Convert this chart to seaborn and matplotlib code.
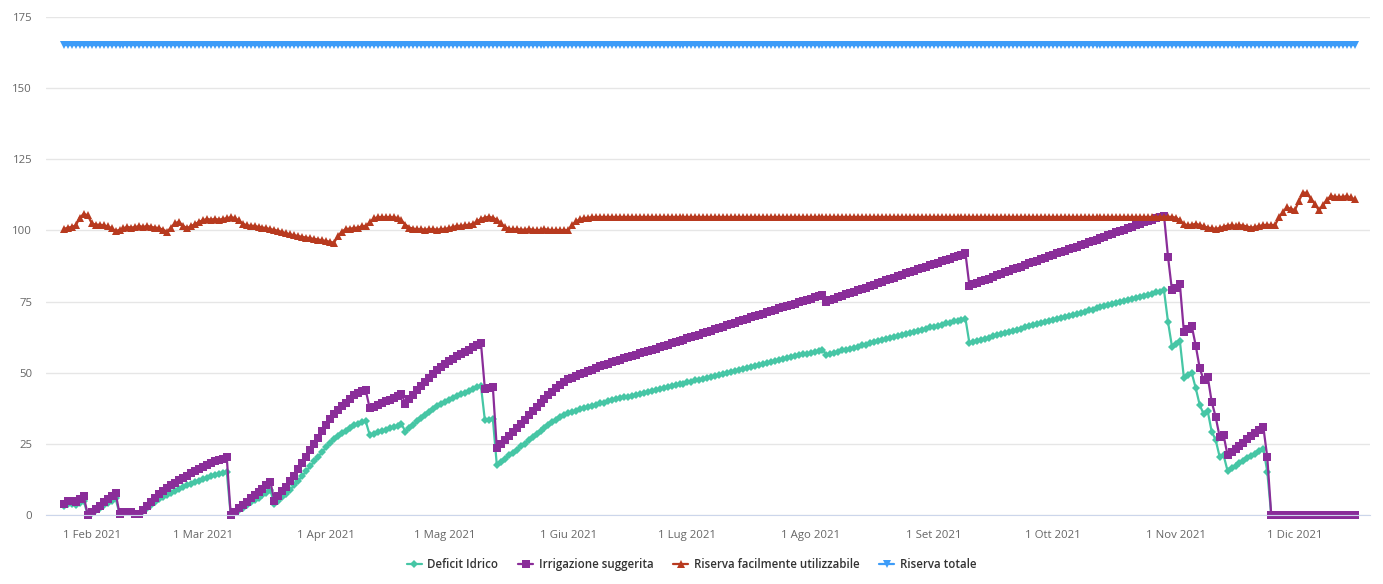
import pandas as pd
import matplotlib
matplotlib.use("Agg")
import matplotlib.pyplot as plt
from matplotlib.lines import Line2D
import seaborn as sns

# daily values, first day 25 Jan 2021
start_date = "2021-01-25"

deficit_idrico = [
    3.0, 3.8, 3.8, 3.4, 4.1, 4.9,
    0.0, 0.8, 1.7, 2.5, 3.4, 4.2, 5.0, 5.9,
    0.4, 0.8, 0.9, 0.9, 0.4, 0.2,
    1.4, 2.4, 3.5, 4.5, 5.5, 6.4, 7.1, 7.8, 8.5, 9.2, 9.8, 10.4, 11.0, 11.5, 12.0, 12.5, 13.1, 13.7, 14.1, 14.5, 14.9, 15.2,
    0.0, 0.9, 1.7, 2.6, 3.5, 4.4, 5.2, 6.1, 6.9, 7.8, 8.6,
    3.8, 5.0, 6.2, 7.5, 8.9, 10.4, 12.0, 13.7, 15.4, 17.1, 18.8, 20.4, 22.1, 23.8, 25.4, 26.6, 27.8, 28.7, 29.6, 30.6, 31.5, 32.1, 32.6, 32.9,
    28.1, 28.6, 29.0, 29.5, 29.9, 30.4, 30.8, 31.4, 31.9,
    29.3, 30.5, 31.7, 32.9, 34.0, 35.1, 36.2, 37.3, 38.2, 39.0, 39.8, 40.5, 41.2, 41.8, 42.4, 43.0, 43.6, 44.2, 44.8, 45.4,
    33.2, 33.5, 33.8,
    17.6, 18.7, 19.7, 20.9, 21.9, 23.0, 24.1, 25.1, 26.3, 27.3, 28.4, 29.4, 30.5, 31.5, 32.5, 33.5, 34.4,
    35.1, 35.8, 36.2, 36.7, 37.1, 37.5, 38.0, 38.3, 38.7, 39.2, 39.5, 39.9, 40.3,
    40.6, 41.0, 41.3, 41.6, 41.9, 42.2, 42.6, 42.9, 43.3, 43.6, 43.9, 44.3, 44.6, 44.9, 45.2, 45.6, 45.9, 46.2, 46.6, 46.9,
    47.3, 47.6, 47.9, 48.2, 48.6, 49.0, 49.3, 49.7, 50.0, 50.3, 50.7, 51.0, 51.4, 51.8, 52.1, 52.4, 52.7, 53.1, 53.5, 53.8, 54.2, 54.5,
    54.8, 55.1, 55.4, 55.7, 56.1, 56.4, 56.7, 57.0, 57.4, 57.7, 58.0,
    56.3, 56.6, 57.0, 57.4, 57.8, 58.1, 58.5, 58.8, 59.2, 59.6, 59.9, 60.3, 60.7, 61.1, 61.4, 61.8, 62.2, 62.6, 62.9, 63.3,
    63.7, 64.0, 64.4, 64.7, 65.1, 65.5, 65.9,
    66.2, 66.5, 66.9, 67.3, 67.6, 68.0, 68.3, 68.6, 69.0,
    60.4, 60.8, 61.2, 61.6, 62.0, 62.3, 62.8, 63.2, 63.5, 64.0, 64.4, 64.7, 65.1, 65.5, 65.9, 66.3,
    66.7, 67.1, 67.4, 67.8, 68.2, 68.6, 68.9, 69.3, 69.7, 70.0, 70.4, 70.7, 71.1, 71.5, 71.9, 72.2, 72.6, 73.0, 73.4, 73.7,
    74.1, 74.5, 74.9, 75.2, 75.6, 76.0, 76.4, 76.7, 77.1, 77.4, 77.8, 78.2, 78.5, 78.9,
    67.9, 59.2, 60.0, 61.0, 48.3, 49.1, 49.8, 44.5, 38.6, 35.4, 36.5, 29.3, 26.4, 20.5, 21.0, 15.5,
    16.4, 17.3, 18.2, 19.1, 20.0, 20.8, 21.6, 22.5, 23.3,
    15.2,
    0, 0, 0, 0, 0, 0, 0, 0, 0, 0, 0, 0, 0, 0, 0, 0, 0, 0, 0, 0, 0, 0,
]

irrigazione_suggerita = [
    4.0, 5.0, 5.0, 4.5, 5.5, 6.5,
    0.0, 1.1, 2.2, 3.3, 4.5, 5.6, 6.7, 7.8,
    0.5, 1.0, 1.2, 1.2, 0.5, 0.3,
    1.8, 3.2, 4.6, 6.0, 7.3, 8.5, 9.5, 10.4, 11.3, 12.2, 13.0, 13.8, 14.6, 15.3, 16.0, 16.7, 17.5, 18.2, 18.8, 19.3, 19.8, 20.3,
    0.0, 1.2, 2.3, 3.5, 4.6, 5.8, 6.9, 8.1, 9.2, 10.4, 11.5,
    5.0, 6.6, 8.3, 10.0, 11.8, 13.8, 16.0, 18.2, 20.5, 22.8, 25.0, 27.2, 29.4, 31.7, 33.8, 35.5, 37.0, 38.2, 39.5, 40.8, 42.0, 42.8, 43.4, 43.8,
    37.5, 38.1, 38.7, 39.3, 39.9, 40.5, 41.1, 41.8, 42.5,
    39.0, 40.6, 42.2, 43.8, 45.3, 46.8, 48.3, 49.7, 50.9, 52.0, 53.0, 54.0, 54.9, 55.7, 56.5, 57.3, 58.1, 58.9, 59.7, 60.5,
    44.2, 44.6, 45.0,
    23.4, 24.9, 26.3, 27.8, 29.2, 30.7, 32.1, 33.5, 35.0, 36.4, 37.8, 39.2, 40.6, 42.0, 43.3, 44.6, 45.8,
    46.8, 47.7, 48.3, 48.9, 49.5, 50.0, 50.6, 51.1, 51.6, 52.2, 52.7, 53.2, 53.7,
    54.1, 54.6, 55.0, 55.5, 55.9, 56.3, 56.8, 57.2, 57.7, 58.1, 58.5, 59.0, 59.4, 59.9, 60.3, 60.8, 61.2, 61.6, 62.1, 62.5,
    63.0, 63.4, 63.9, 64.3, 64.8, 65.3, 65.7, 66.2, 66.7, 67.1, 67.6, 68.0, 68.5, 69.0, 69.4, 69.9, 70.3, 70.8, 71.3, 71.7, 72.2, 72.6,
    73.0, 73.5, 73.9, 74.3, 74.8, 75.2, 75.6, 76.0, 76.5, 76.9, 77.3,
    75.0, 75.5, 76.0, 76.5, 77.0, 77.5, 78.0, 78.4, 78.9, 79.4, 79.9, 80.4, 80.9, 81.4, 81.9, 82.4, 82.9, 83.4, 83.9, 84.4,
    84.9, 85.3, 85.8, 86.3, 86.8, 87.3, 87.8,
    88.3, 88.7, 89.2, 89.7, 90.1, 90.6, 91.1, 91.5, 92.0,
    80.5, 81.0, 81.6, 82.1, 82.6, 83.1, 83.7, 84.2, 84.7, 85.3, 85.8, 86.3, 86.8, 87.3, 87.9, 88.4,
    88.9, 89.4, 89.9, 90.4, 90.9, 91.4, 91.9, 92.4, 92.9, 93.3, 93.8, 94.3, 94.8, 95.3, 95.8, 96.3, 96.8, 97.3, 97.8, 98.3,
    98.8, 99.3, 99.8, 100.3, 100.8, 101.3, 101.8, 102.3, 102.8, 103.2, 103.7, 104.2, 104.7, 105.2,
    90.8, 79.0, 79.8, 81.0, 64.4, 65.4, 66.3, 59.4, 51.5, 47.4, 48.6, 39.8, 34.5, 27.5, 28.0, 21.0,
    22.1, 23.2, 24.3, 25.4, 26.6, 27.7, 28.8, 29.9, 31.0,
    20.3,
    0, 0, 0, 0, 0, 0, 0, 0, 0, 0, 0, 0, 0, 0, 0, 0, 0, 0, 0, 0, 0, 0,
]

riserva_facile = [
    100.5, 101.0, 101.2, 101.8, 104.5, 105.8, 105.3, 102.5, 102.0, 102.0,
    101.8, 101.4, 100.8, 99.8, 100.2, 100.8, 101.2, 101.0, 101.2, 101.5,
    101.2, 101.6, 101.2, 101.0, 100.8, 100.2, 99.6, 101.0, 102.6, 103.0,
    101.6, 100.8, 101.5, 102.2, 103.0, 103.6, 104.0, 103.8, 104.0, 103.8,
    104.0, 104.3, 104.6, 104.4, 103.5, 102.4, 101.8, 101.6, 101.6, 101.2,
    101.0, 100.8, 100.4, 100.2, 99.8, 99.4, 99.0, 98.6, 98.3, 98.0,
    97.7, 97.5, 97.2, 97.0, 96.8, 96.5, 96.3, 96.0, 95.7, 98.0,
    99.6, 100.5, 100.6, 100.8, 101.0, 101.4, 101.6, 102.8, 104.2, 104.6,
    104.7, 104.6, 104.7, 104.6, 104.4, 103.5, 102.0, 101.0, 100.6, 100.4,
    100.4, 100.3, 100.4, 100.4, 100.3, 100.4, 100.6, 100.8, 101.2, 101.6,
    101.6, 101.8, 102.0, 102.3, 103.2, 104.0, 104.5, 104.8, 104.4, 103.8,
    102.5, 101.2, 100.6, 100.4, 100.5, 100.3, 100.2, 100.4, 100.3, 100.0,
    100.2, 100.4, 100.3, 100.0, 100.2, 100.0, 100.2, 100.0, 102.0, 103.2,
    104.0, 104.3, 104.5, 104.6,
    104.7, 104.7, 104.7, 104.7, 104.7, 104.7, 104.7, 104.7, 104.7, 104.7, 104.7, 104.7, 104.7, 104.7, 104.7, 104.7, 104.7, 104.7, 104.7, 104.7,
    104.7, 104.7, 104.7, 104.7, 104.7, 104.7, 104.7, 104.7, 104.7, 104.7, 104.7, 104.7, 104.7, 104.7, 104.7, 104.7, 104.7, 104.7, 104.7, 104.7,
    104.7, 104.7, 104.7, 104.7, 104.7, 104.7, 104.7, 104.7, 104.7, 104.7, 104.7, 104.7, 104.7, 104.7, 104.7, 104.7, 104.7, 104.7, 104.7, 104.7,
    104.7, 104.7, 104.7, 104.7, 104.7, 104.7, 104.7, 104.7, 104.7, 104.7, 104.7, 104.7, 104.7, 104.7, 104.7, 104.7, 104.7, 104.7, 104.7, 104.7,
    104.7, 104.7, 104.7, 104.7, 104.7, 104.7, 104.7, 104.7, 104.7, 104.7, 104.7, 104.7, 104.7, 104.7, 104.7, 104.7, 104.7, 104.7, 104.7, 104.7,
    104.7, 104.7, 104.7, 104.7, 104.7, 104.7, 104.7, 104.7, 104.7, 104.7, 104.7, 104.7, 104.7, 104.7, 104.7, 104.7, 104.7, 104.7, 104.7, 104.7,
    104.7, 104.7, 104.7, 104.7, 104.7, 104.7, 104.7, 104.7, 104.7, 104.7, 104.7, 104.7, 104.7, 104.7, 104.7, 104.7, 104.7, 104.7, 104.7, 104.7,
    104.7, 104.7, 104.7,
    104.8, 104.8, 104.7, 104.5, 103.5, 102.2, 101.8, 102.0, 102.3, 101.9,
    101.4, 101.0, 100.7, 100.6, 100.8, 101.3, 101.7, 101.8, 101.6, 101.8,
    101.7, 101.3, 101.0, 101.2, 101.6, 101.8, 102.0, 101.8, 102.0, 104.7,
    106.5, 108.1, 107.5, 107.2, 110.5, 113.3, 113.2, 111.0, 109.3, 107.0,
    108.8, 110.7, 112.1, 111.8, 111.7, 111.8, 112.0, 111.6, 110.9,
]

riserva_totale = [165.0] * len(deficit_idrico)

month_ticks = ["2021-02-01", "2021-03-01", "2021-04-01", "2021-05-01", "2021-06-01", "2021-07-01",
               "2021-08-01", "2021-09-01", "2021-10-01", "2021-11-01", "2021-12-01"]
month_labels = ["1 Feb 2021", "1 Mar 2021", "1 Apr 2021", "1 Mag 2021", "1 Giu 2021", "1 Lug 2021",
                "1 Ago 2021", "1 Set 2021", "1 Ott 2021", "1 Nov 2021", "1 Dic 2021"]

n = len(deficit_idrico)
assert len(irrigazione_suggerita) == n and len(riserva_facile) == n, (n, len(irrigazione_suggerita), len(riserva_facile))

dates = pd.date_range(start_date, periods=n, freq="D")
df = pd.DataFrame({
    "data": dates,
    "Deficit Idrico": deficit_idrico,
    "Irrigazione suggerita": irrigazione_suggerita,
    "Riserva facilmente utilizzabile": riserva_facile,
    "Riserva totale": riserva_totale,
})

sns.set_style("white")
plt.rcParams["font.family"] = ["Open Sans", "DejaVu Sans"]

series = [
    ("Deficit Idrico", "#46c6a5", "D", 4.0),
    ("Irrigazione suggerita", "#8a2d99", "s", 6.4),
    ("Riserva facilmente utilizzabile", "#b83a1f", "^", 6.0),
    ("Riserva totale", "#3d9cf8", "v", 6.0),
]

fig = plt.figure(figsize=(13.83, 5.84), dpi=100)
ax = fig.add_axes([0.0333, 0.1182, 0.9574, 0.8527])

for name, col, mk, ms in series:
    sns.lineplot(data=df, x="data", y=name, ax=ax, color=col, marker=mk, markersize=ms,
                 markeredgewidth=0, linewidth=1.6, legend=False, clip_on=False)

ax.set_ylim(0, 175)
ax.set_yticks(range(0, 176, 25))
d0 = dates[0]
ax.set_xlim(d0 - pd.Timedelta(days=4.5), d0 + pd.Timedelta(days=328.9))
ax.set_xticks(pd.to_datetime(month_ticks))
ax.set_xticklabels(month_labels)
ax.set_xlabel("")
ax.set_ylabel("")

ax.grid(axis="y", color="#e6e6e6", linewidth=1)
ax.set_axisbelow(True)
for s in ["top", "right", "left"]:
    ax.spines[s].set_visible(False)
ax.spines["bottom"].set_color("#ccd6eb")
ax.tick_params(axis="x", length=9, color="#ccd6eb", labelsize=8.2, labelcolor="#666666", pad=2)
ax.tick_params(axis="y", length=0, labelsize=8.2, labelcolor="#666666", pad=10)

handles = [Line2D([], [], color=col, marker=mk, markersize=ms, markeredgewidth=0, linewidth=1.6)
           for name, col, mk, ms in series]
fig.legend(handles, [s[0] for s in series], loc="center", bbox_to_anchor=(0.5, 0.033), ncol=4,
           frameon=False, handlelength=1.3, handletextpad=0.5, columnspacing=1.7,
           prop={"size": 8.3, "weight": "semibold"}, labelcolor="#333333")

fig.savefig("out.png", dpi=100)
